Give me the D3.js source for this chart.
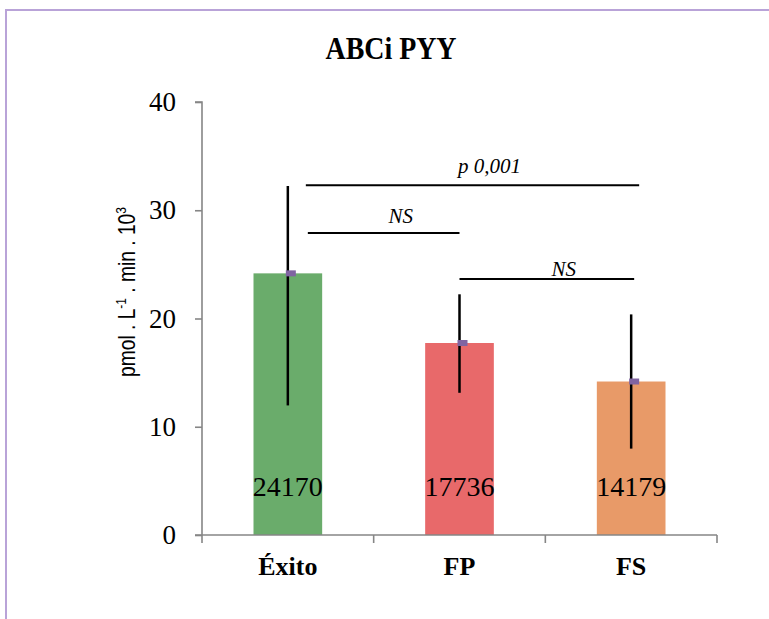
<!DOCTYPE html>
<html>
<head>
    <meta charset="utf-8">
    <style>
        body { margin: 0; background: #fff; }
        .tick text { font-family: "Liberation Serif", serif; }
        .title { font: bold 31px "Liberation Serif", serif; text-anchor: middle; }
        .sig text { font: italic 21px "Liberation Serif", serif; text-anchor: middle; }
    </style>
    <script src="https://d3js.org/d3.v7.min.js"></script>
</head>
<body>
    <svg width="769" height="619"></svg>
    <script>

        var categories = ["Éxito", "FP", "FS"];
        var means = [24.170, 17.736, 14.179];
        var errUp = [8.07, 4.5, 6.2];
        var errDown = [12.2, 4.6, 6.2];
        var valueLabels = ["24170", "17736", "14179"];
        var colors = ["#6aac6b", "#e8696a", "#e89a68"];
        var yTicks = [0, 10, 20, 30, 40];

        // significance brackets: from / to category, height in data units
        var sigFrom = ["Éxito", "Éxito", "FP"];
        var sigTo = ["FS", "FP", "FS"];
        var sigLevel = [32.3, 27.9, 23.65];
        var sigText = ["p 0,001", "NS", "NS"];

        var svg = d3.select("svg"),
            width = +svg.attr("width"),
            height = +svg.attr("height");

        // outer frame
        svg.append("path")
           .attr("d", "M6," + height + "V10H" + width)
           .attr("fill", "none")
           .attr("stroke", "#b9a3d8")
           .attr("stroke-width", 2);

        var x = d3.scaleBand().domain(categories).range([202, 717]).padding(0);
        var y = d3.scaleLinear().domain([0, 40]).range([535, 102]);
        var barW = x.bandwidth() * 0.4;
        var cx = function(c) { return x(c) + x.bandwidth() / 2; };

        svg.append("text")
           .attr("class", "title")
           .attr("x", 391)
           .attr("y", 59)
           .attr("textLength", 131)
           .attr("lengthAdjust", "spacingAndGlyphs")
           .text("ABCi PYY");

        // y axis
        var yAxis = svg.append("g")
           .attr("transform", "translate(202,0)")
           .call(d3.axisLeft(y).tickValues(yTicks).tickSize(7).tickPadding(19));
        yAxis.selectAll("path, line").attr("stroke", "#868686").attr("stroke-width", 1.6);
        yAxis.select(".domain").attr("d", "M-7," + y(40) + "H0V" + y(0));
        yAxis.selectAll(".tick text").attr("font-size", 27).attr("fill", "#000");

        // y label
        var yl = svg.append("text")
           .attr("transform", "translate(135,292) rotate(-90) scale(0.8,1)")
           .attr("text-anchor", "middle")
           .attr("font-family", "'Liberation Sans', Arial, sans-serif")
           .attr("font-size", 24)
           .attr("fill", "#000");
        yl.append("tspan").text("pmol . L");
        yl.append("tspan").attr("dy", -9).attr("font-size", 15).text("-1");
        yl.append("tspan").attr("dy", 9).text(" . min . 10");
        yl.append("tspan").attr("dy", -9).attr("font-size", 15).text("3");

        // bars
        svg.selectAll(".bar")
           .data(categories)
           .enter().append("rect")
           .attr("class", "bar")
           .attr("x", function(d) { return cx(d) - barW / 2; })
           .attr("width", barW)
           .attr("y", function(d, i) { return y(means[i]); })
           .attr("height", function(d, i) { return y(0) - y(means[i]); })
           .attr("fill", function(d, i) { return colors[i]; });

        // x axis
        var xAxis = svg.append("g").attr("transform", "translate(0," + y(0) + ")");
        xAxis.append("line")
             .attr("x1", 195).attr("x2", 717)
             .attr("stroke", "#868686").attr("stroke-width", 1.6);
        xAxis.selectAll(".xt")
             .data(categories.concat([null]))
             .enter().append("line")
             .attr("x1", function(d) { return d === null ? 717 : x(d); })
             .attr("x2", function(d) { return d === null ? 717 : x(d); })
             .attr("y1", 0).attr("y2", 8)
             .attr("stroke", "#868686").attr("stroke-width", 1.6);
        xAxis.selectAll(".xl")
             .data(categories)
             .enter().append("text")
             .attr("x", cx)
             .attr("y", 40)
             .attr("text-anchor", "middle")
             .attr("font-family", "'Liberation Serif', serif")
             .attr("font-weight", "bold")
             .attr("font-size", 26)
             .text(function(d) { return d; });

        // value labels
        svg.selectAll(".vl")
           .data(categories)
           .enter().append("text")
           .attr("x", cx)
           .attr("y", y(3.6))
           .attr("text-anchor", "middle")
           .attr("font-family", "'Liberation Serif', serif")
           .attr("font-size", 28)
           .text(function(d, i) { return valueLabels[i]; });

        // error bars
        svg.selectAll(".err")
           .data(categories)
           .enter().append("line")
           .attr("x1", cx).attr("x2", cx)
           .attr("y1", function(d, i) { return y(means[i] + errUp[i]); })
           .attr("y2", function(d, i) { return y(means[i] - errDown[i]); })
           .attr("stroke", "#000")
           .attr("stroke-width", 2.5);

        // mean markers
        svg.selectAll(".mk")
           .data(categories)
           .enter().append("rect")
           .attr("x", function(d) { return cx(d) - 2; })
           .attr("y", function(d, i) { return y(means[i]) - 3; })
           .attr("width", 10)
           .attr("height", 6)
           .attr("fill", "#8064a2");

        // significance brackets
        var sig = svg.selectAll(".sig")
           .data(sigText)
           .enter().append("g")
           .attr("class", "sig");
        var offL = [18, 20, 0], offR = [8, 0, 3], textGap = [12, 10, 3];
        sig.append("line")
           .attr("x1", function(d, i) { return cx(sigFrom[i]) + offL[i]; })
           .attr("x2", function(d, i) { return cx(sigTo[i]) + offR[i]; })
           .attr("y1", function(d, i) { return y(sigLevel[i]); })
           .attr("y2", function(d, i) { return y(sigLevel[i]); })
           .attr("stroke", "#000")
           .attr("stroke-width", 2);
        sig.append("text")
           .attr("x", function(d, i) { return (cx(sigFrom[i]) + offL[i] + cx(sigTo[i]) + offR[i]) / 2 + 17; })
           .attr("y", function(d, i) { return y(sigLevel[i]) - textGap[i]; })
           .text(function(d) { return d; });

    </script>
</body>
</html>
